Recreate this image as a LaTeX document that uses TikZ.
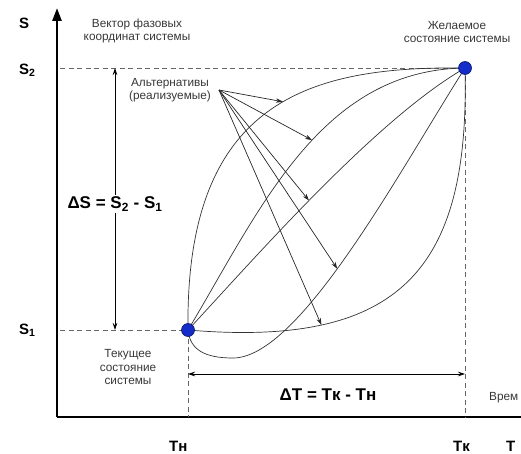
\documentclass[tikz,border=0pt]{standalone}
\usepackage{fontspec}
\setmainfont{Liberation Sans}
\usetikzlibrary{arrows.meta}
\definecolor{dotblue}{RGB}{20,45,200}
\definecolor{dotrim}{RGB}{10,20,110}
\definecolor{txtgray}{RGB}{55,55,55}
\begin{document}
\begin{tikzpicture}[x=1pt,y=-1pt,
  axis/.style={line width=2.6pt},
  guide/.style={dash pattern=on 5pt off 3.5pt, draw=black!60, line width=0.8pt},
  traj/.style={draw=black!80, line width=0.7pt},
  pointer/.style={draw=black!85, line width=0.7pt, -{Stealth[length=7pt,width=4.5pt]}},
  dim/.style={draw=black, line width=0.7pt, {Stealth[length=7pt,width=4.5pt]}-{Stealth[length=7pt,width=4.5pt]}},
  big/.style={font=\fontsize{17}{20}\selectfont\bfseries},
  axlab/.style={font=\fontsize{15}{18}\selectfont\bfseries},
  note/.style={font=\fontsize{11.8}{13.5}\selectfont, text=txtgray, align=center},
  state/.style={circle, fill=dotblue, draw=dotrim, line width=0.6pt, inner sep=0pt, minimum size=13pt}
]
\useasboundingbox (0,0) rectangle (521,454);

% key points
\coordinate (O) at (57,417);
\coordinate (Ytop) at (57,8);
\coordinate (Xend) at (521,417);
\coordinate (pA) at (188,330);
\coordinate (pB) at (465,68);
\coordinate (s2left) at (60,68);
\coordinate (s1left) at (60,330);
\coordinate (tnfoot) at (188,417);
\coordinate (tkfoot) at (465,417);

% axes
\draw[axis, -{Triangle[length=13pt,width=9pt]}] (O) -- (Ytop);
\draw[axis] (O) -- (Xend);

% guides
\draw[guide] (s2left) -- (pB);
\draw[guide] (s1left) -- (pA);
\draw[guide] (pA) -- (tnfoot);
\draw[guide] (pB) -- (tkfoot);

% trajectories
\draw[traj] (pA) .. controls (185,100) and (310,66) .. (pB) coordinate[pos=0.55] (t1);
\draw[traj] (pA) .. controls (260,210) and (320,70) .. (pB) coordinate[pos=0.55] (t2);
\draw[traj] (pA) .. controls (255,258) and (375,120) .. (pB) coordinate[pos=0.47] (t3);
\draw[traj] (pA) .. controls (190,350) and (205,358) .. (233,358)
   .. controls (300,358) and (400,170) .. (pB) coordinate[pos=0.45] (t4);
\draw[traj] (pA) .. controls (400,348) and (470,270) .. (pB) coordinate[pos=0.25] (t5);

% labels
\node[note] (alt) at (170,90) {Альтернативы\\(реализуемые)};
\coordinate (src) at (219,90);
\draw[pointer] (src) -- (t1);
\draw[pointer] (src) -- (t2);
\draw[pointer] (src) -- (t3);
\draw[pointer] (src) -- (t4);
\draw[pointer] (src) -- (t5);

% dimension arrows
\coordinate (dsTop) at (115,68);
\coordinate (dsBot) at (115,330);
\draw[dim] (dsBot) -- (dsTop);
\coordinate (dtL) at (188,374);
\coordinate (dtR) at (465,374);
\draw[dim] (dtR) -- (dtL);

\node[big, fill=white, inner sep=1.5pt] (dS) at (115,204) {ΔS = S\textsubscript{2} - S\textsubscript{1}};
\node[big] (dT) at (328,395) {ΔT = Tк - Tн};

% states
\node[state] (A) at (pA) {};
\node[state] (B) at (pB) {};

% axis labels
\node[axlab, anchor=west, inner sep=0pt] (lS) at (19,23) {S};
\node[axlab, anchor=west, inner sep=0pt] (lS2) at (19,70) {S\textsubscript{2}};
\node[axlab, anchor=west, inner sep=0pt] (lS1) at (19,330) {S\textsubscript{1}};
\node[axlab, anchor=west, inner sep=0pt] (lTn) at (169,446) {Tн};
\node[axlab, anchor=west, inner sep=0pt] (lTk) at (453,446) {Tк};
\node[axlab, anchor=west, inner sep=0pt] (lT) at (506,446) {T};

% notes
\node[note] (vec) at (137,31) {Вектор фазовых\\координат системы};
\node[note] (goal) at (457,32) {Желаемое\\состояние системы};
\node[note] (cur) at (128,367) {Текущее\\состояние\\системы};
\node[note, anchor=west, inner sep=0pt] (time) at (489,398) {Врем};
\end{tikzpicture}
\end{document}
